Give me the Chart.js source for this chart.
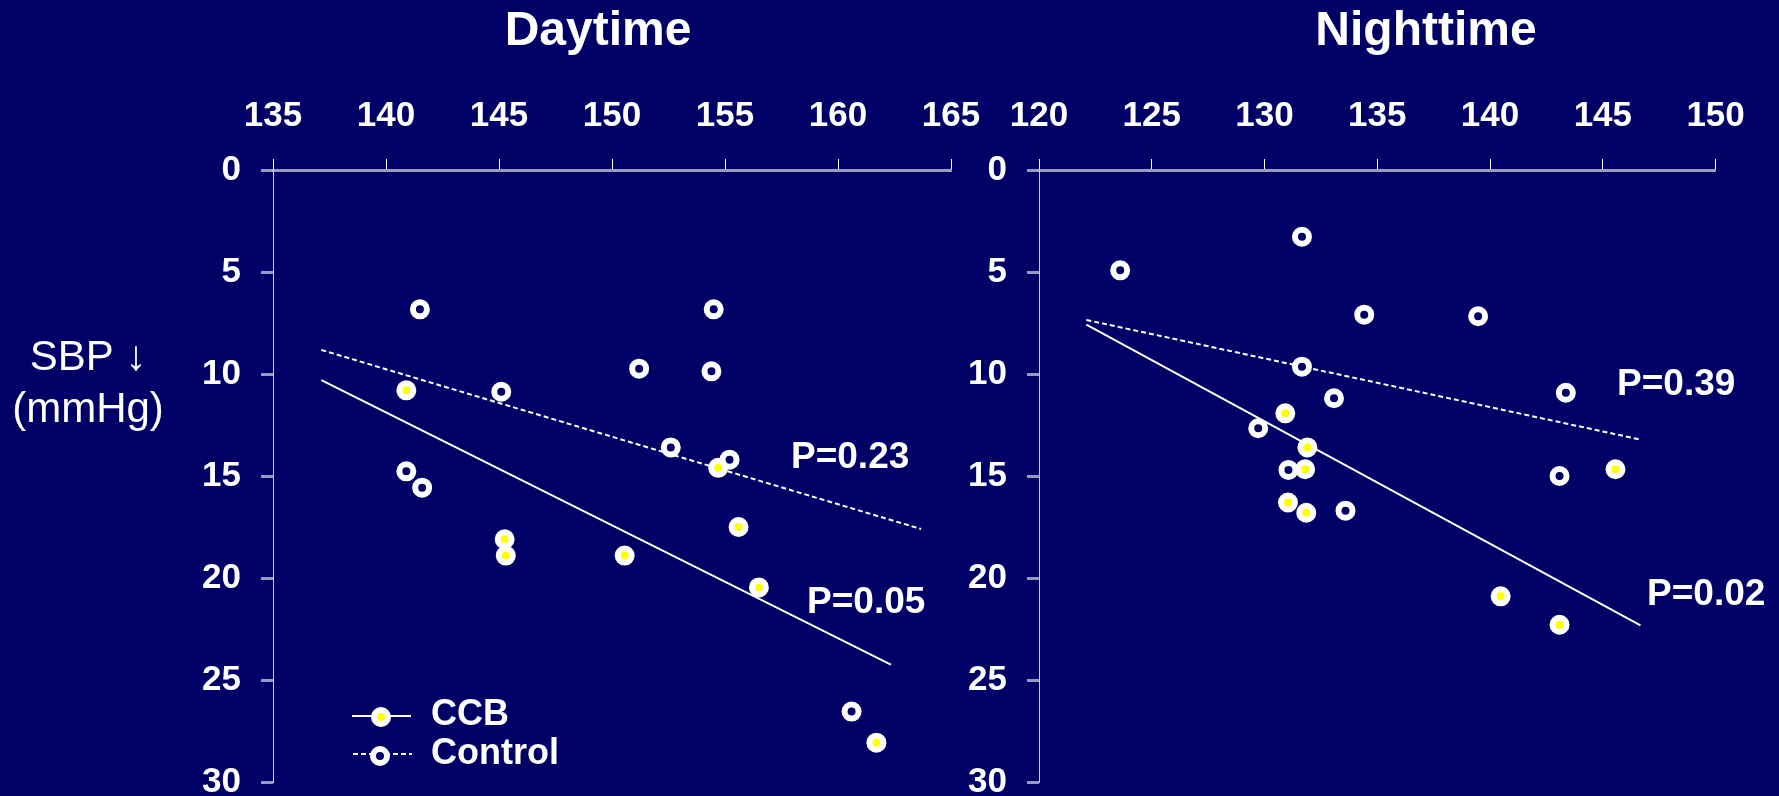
<!DOCTYPE html>
<html>
<head>
<meta charset="utf-8">
<script src="https://cdn.jsdelivr.net/npm/chart.js@4.4.1/dist/chart.umd.min.js"></script>
<style>
  html, body { margin: 0; padding: 0; background: #000066; overflow: hidden; }
  #stage { position: relative; width: 1779px; height: 796px; background: #000066; overflow: hidden; }
  #day { position: absolute; left: 0; top: 0; }
  #night { position: absolute; left: 940px; top: 0; }
</style>
</head>
<body>
<div id="stage">
  <canvas id="day" width="1000" height="796"></canvas>
  <canvas id="night" width="839" height="796"></canvas>
</div>
<script>
// ---- Daytime: baseline SBP (x) vs SBP fall (y) ----
const dayCcbX     = [140.9, 154.7, 155.6, 145.25, 145.3, 150.56, 156.5, 161.7];
const dayCcbY     = [10.8, 14.6, 17.5, 18.1, 18.9, 18.9, 20.46, 28.07];
const dayControlX = [141.5, 154.5, 151.2, 154.4, 145.1, 152.6, 155.2, 140.9, 141.6, 160.6];
const dayControlY = [6.83, 6.83, 9.74, 9.87, 10.87, 13.6, 14.2, 14.77, 15.57, 26.55];
const dayCcbFitX     = [137.14, 162.34];
const dayCcbFitY     = [10.3, 24.25];
const dayControlFitX = [137.14, 163.68];
const dayControlFitY = [8.82, 17.6];

// ---- Nighttime ----
const nightCcbX     = [130.92, 131.9, 131.8, 131.04, 131.85, 145.56, 140.47, 143.08];
const nightCcbY     = [11.93, 13.6, 14.67, 16.3, 16.8, 14.67, 20.9, 22.29];
const nightControlX = [131.66, 123.6, 134.42, 139.47, 131.66, 133.08, 143.36, 129.72, 131.06, 143.08, 133.59];
const nightControlY = [3.27, 4.92, 7.09, 7.17, 9.64, 11.19, 10.92, 12.66, 14.7, 15.0, 16.7];
const nightCcbFitX     = [122.1, 146.67];
const nightCcbFitY     = [7.58, 22.32];
const nightControlFitX = [122.1, 146.6];
const nightControlFitY = [7.35, 13.2];

// ---- Axis ranges and ticks ----
const dayXRange   = [135, 165];
const nightXRange = [120, 150];
const yRange      = [0, 30];
const tickStep    = 5;

// ---- Text ----
const panelTitles = ['Daytime', 'Nighttime'];
const yTitleLines = ['SBP \u2193', '(mmHg)'];
const seriesNames = ['CCB', 'Control'];
const dayPValues   = ['P=0.23', 'P=0.05'];
const nightPValues = ['P=0.39', 'P=0.02'];

const FONT = '"Liberation Sans", Arial, Helvetica, sans-serif';
const NAVY = '#000066';
const YELLOW = '#ffff00';
const AXIS_GREY = 'rgba(180,180,215,0.85)';

const pts = (xs, ys) => xs.map((x, i) => ({ x, y: ys[i] }));

function panelDatasets(ccbX, ccbY, ctlX, ctlY, cfx, cfy, tfx, tfy) {
  const marker = {
    showLine: false, pointRadius: 7, pointHoverRadius: 7,
    pointBorderWidth: 6, pointBorderColor: '#ffffff'
  };
  return [
    Object.assign({ label: seriesNames[0], data: pts(ccbX, ccbY), pointBackgroundColor: YELLOW }, marker),
    Object.assign({ label: seriesNames[1], data: pts(ctlX, ctlY), pointBackgroundColor: NAVY }, marker),
    { label: seriesNames[0] + ' fit', data: pts(cfx, cfy), showLine: true, pointRadius: 0,
      borderColor: '#ffffff', borderWidth: 2, fill: false },
    { label: seriesNames[1] + ' fit', data: pts(tfx, tfy), showLine: true, pointRadius: 0,
      borderColor: '#ffffff', borderWidth: 2, borderDash: [5, 3], fill: false }
  ];
}

function panelScales(xr, yAxisWidth) {
  return {
    x: {
      type: 'linear', position: 'top', min: xr[0], max: xr[1],
      ticks: { stepSize: tickStep, color: '#ffffff', padding: 22, maxRotation: 0, autoSkip: false,
               font: { family: FONT, size: 35, weight: 'bold' } },
      grid: { drawOnChartArea: false, drawTicks: true, tickLength: 11,
              tickColor: '#ffffff', tickWidth: 1, color: 'transparent' },
      border: { display: true, color: AXIS_GREY, width: 3 },
      afterFit(s) { s.height = 170; s.paddingLeft = 0; s.paddingRight = 0; }
    },
    y: {
      type: 'linear', position: 'left', min: yRange[0], max: yRange[1], reverse: true,
      ticks: { stepSize: tickStep, color: '#ffffff', padding: 20,
               font: { family: FONT, size: 35, weight: 'bold' } },
      grid: { drawOnChartArea: false, drawTicks: true, tickLength: 12,
              tickColor: AXIS_GREY, tickWidth: 3, color: 'transparent' },
      border: { display: true, color: 'rgba(225,225,245,0.9)', width: 1 },
      afterFit(s) { s.width = yAxisWidth; s.paddingTop = 0; s.paddingBottom = 0; }
    }
  };
}

function drawMarker(ctx, x, y, fill) {
  ctx.beginPath();
  ctx.arc(x, y, 7, 0, Math.PI * 2);
  ctx.fillStyle = fill;
  ctx.fill();
  ctx.lineWidth = 6;
  ctx.strokeStyle = '#ffffff';
  ctx.stroke();
}

// Titles, P values, y-axis title and the legend
const panelText = {
  id: 'panelText',
  afterDraw(chart, args, o) {
    const ctx = chart.ctx;
    const xs = chart.scales.x, ys = chart.scales.y;
    ctx.save();
    ctx.fillStyle = '#ffffff';

    ctx.font = 'bold 48px ' + FONT;
    ctx.textAlign = 'center';
    ctx.textBaseline = 'alphabetic';
    ctx.fillText(o.title, o.titleX, 45);

    ctx.font = 'bold 37px ' + FONT;
    ctx.textAlign = 'left';
    ctx.textBaseline = 'middle';
    o.notes.forEach(n => ctx.fillText(n.text, xs.getPixelForValue(n.x), ys.getPixelForValue(n.y)));

    if (o.yTitle) {
      ctx.font = '42px ' + FONT;
      ctx.textAlign = 'center';
      ctx.textBaseline = 'alphabetic';
      ctx.fillText(yTitleLines[0], 88, 370);
      ctx.fillText(yTitleLines[1], 88, 422);
    }

    if (o.legend) {
      ctx.lineWidth = 2;
      ctx.strokeStyle = '#ffffff';
      ctx.beginPath(); ctx.moveTo(352, 716); ctx.lineTo(411, 716); ctx.stroke();
      drawMarker(ctx, 381, 717, YELLOW);
      ctx.lineWidth = 2;
      ctx.setLineDash([5, 3]);
      ctx.beginPath(); ctx.moveTo(353, 754); ctx.lineTo(412, 754); ctx.stroke();
      ctx.setLineDash([]);
      drawMarker(ctx, 380, 756, NAVY);
      ctx.fillStyle = '#ffffff';
      ctx.font = 'bold 36px ' + FONT;
      ctx.textAlign = 'left';
      ctx.textBaseline = 'middle';
      ctx.fillText(seriesNames[0], 431, 715);
      ctx.fillText(seriesNames[1], 431, 754);
    }
    ctx.restore();
  }
};

function makePanel(id, datasets, scales, padRight, textOpts) {
  return new Chart(document.getElementById(id), {
    type: 'scatter',
    data: { datasets },
    options: {
      responsive: false, animation: false, events: [],
      layout: { padding: { left: 0, top: 0, right: padRight, bottom: 14 } },
      scales,
      plugins: { legend: { display: false }, tooltip: { enabled: false }, title: { display: false },
                 panelText: textOpts }
    },
    plugins: [panelText]
  });
}

makePanel('day',
  panelDatasets(dayCcbX, dayCcbY, dayControlX, dayControlY, dayCcbFitX, dayCcbFitY, dayControlFitX, dayControlFitY),
  panelScales(dayXRange, 273), 49,
  { title: panelTitles[0], titleX: 598, yTitle: true, legend: true,
    notes: [ { text: dayPValues[0], x: 157.92, y: 14.1 }, { text: dayPValues[1], x: 158.63, y: 21.2 } ] });

makePanel('night',
  panelDatasets(nightCcbX, nightCcbY, nightControlX, nightControlY, nightCcbFitX, nightCcbFitY, nightControlFitX, nightControlFitY),
  panelScales(nightXRange, 99), 63.4,
  { title: panelTitles[1], titleX: 486, yTitle: false, legend: false,
    notes: [ { text: nightPValues[0], x: 145.63, y: 10.54 }, { text: nightPValues[1], x: 146.96, y: 20.8 } ] });
</script>
</body>
</html>
